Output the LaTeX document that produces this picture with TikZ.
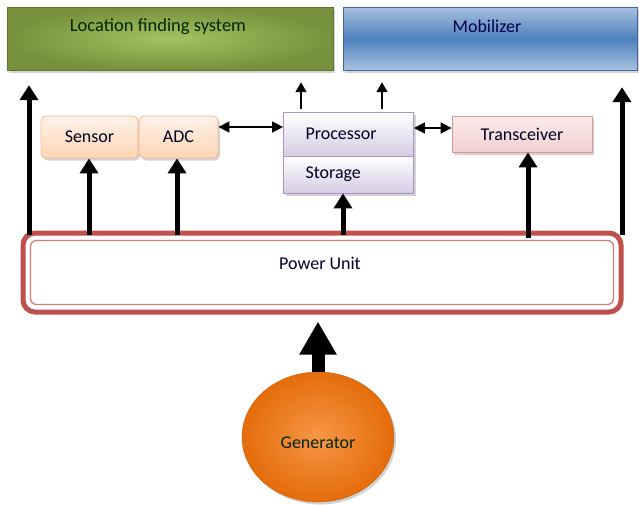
\documentclass[tikz,border=0pt]{standalone}
\usepackage{fontspec}
\setmainfont{Carlito}
\usetikzlibrary{arrows.meta,shapes.geometric,shadows}
\definecolor{gdark}{HTML}{76923C}
\definecolor{glight}{HTML}{A4C262}
\definecolor{bdark}{HTML}{4F81BD}
\definecolor{blight}{HTML}{A7C0DE}
\definecolor{pborder}{HTML}{A894C8}
\definecolor{pfill}{HTML}{D5CCE3}
\definecolor{oborder}{HTML}{F7B98A}
\definecolor{ofill}{HTML}{FCD5B4}
\definecolor{rborder}{HTML}{D99694}
\definecolor{rfill}{HTML}{F2D0CF}
\definecolor{pured}{HTML}{C0504D}
\definecolor{gen}{HTML}{E46C0A}
\definecolor{genlight}{HTML}{F79646}
\tikzset{
  txt/.style={font=\fontsize{18}{21}\selectfont, text=black!85!blue},
  shad/.style={drop shadow={shadow xshift=2pt,shadow yshift=-2.5pt,opacity=0.35}},
  greenbox/.style={rectangle, draw=gdark!80!black, inner color=glight, outer color=gdark, shad},
  bluebox/.style={rectangle, draw=bdark!80!black, top color=blight, bottom color=blight, middle color=bdark, shad},
  orangebox/.style={rectangle, rounded corners=5pt, draw=oborder, line width=0.8pt, top color=white!70!ofill, bottom color=ofill, shad, txt},
  purplebox/.style={rectangle, draw=pborder, line width=0.8pt, top color=white, bottom color=pfill, shad, txt, align=left, text width=86pt, inner xsep=22pt},
  pinkbox/.style={rectangle, draw=rborder, line width=0.8pt, top color=white!60!rfill, bottom color=rfill, shad, txt},
  thickarrow/.style={line width=5pt, -{Triangle[width=18pt,length=15pt]}},
  thinarrow/.style={line width=1.8pt, -{Triangle[width=11pt,length=10pt]}},
  dblarrow/.style={line width=1.6pt, {Triangle[width=11pt,length=11pt]}-{Triangle[width=11pt,length=11pt]}},
}
\begin{document}
\begin{tikzpicture}[x=1pt,y=-1pt]
\useasboundingbox (0,0) rectangle (639,504);
% top boxes
\node[greenbox, minimum width=326pt, minimum height=63pt] (loc) at (170,38.5) {};
\node[txt, font=\fontsize{18.5}{21}\selectfont, text=black!85!green] (loct) at (158,27) {Location finding system};
\node[bluebox, minimum width=294pt, minimum height=63pt] (mob) at (490,38.5) {};
\node[txt, text=black!70!blue] (mobt) at (487,26) {Mobilizer};
% middle boxes
\node[orangebox, minimum width=97pt, minimum height=42pt] (sensor) at (89.5,137) {Sensor};
\node[orangebox, minimum width=79pt, minimum height=42pt] (adc) at (178.5,137) {ADC};
\node[purplebox, minimum height=44pt] (proc) at (348.5,134) {Processor};
\node[purplebox, minimum height=37pt] (stor) at (348.5,174.5) {Storage};
\node[pinkbox, minimum width=140pt, minimum height=36pt] (trans) at (522,134) {Transceiver};
% power unit
\node[rectangle, rounded corners=12pt, draw=pured, line width=5pt, minimum width=598pt, minimum height=79pt, fill=white] (pu) at (322,272.5) {};
\node[rectangle, rounded corners=6pt, draw=pured!75, line width=1.3pt, minimum width=583pt, minimum height=64pt] (pui) at (pu.center) {};
\node[txt] (put) at (320,263) {Power Unit};
% generator
\node[ellipse, minimum width=152pt, minimum height=130pt, inner color=genlight, outer color=gen, draw=gen!90!black, shad, txt, text=black!85!green, text height=26pt, text depth=4pt] (gen) at (318,437) {Generator};
% arrows from power unit
\draw[thickarrow] (pu.north -| 29,0) ++(0,4) -- ([yshift=-15pt]loc.south -| 29,0);
\draw[thickarrow] (pu.north -| 622,0) ++(0,4) -- ([yshift=-17pt]mob.south -| 622,0);
\draw[thickarrow] (pu.north -| 89,0) ++(0,4) -- (sensor.south -| 89,0);
\draw[thickarrow] (pu.north -| 177,0) ++(0,4) -- (adc.south -| 177,0);
\draw[thickarrow] (pu.north -| 343,0) ++(0,4) -- (stor.south -| 343,0);
\draw[thickarrow] (pu.north -| 528,0) ++(0,7) -- (trans.south -| 528,0);
% processor outputs
\draw[thinarrow] ([yshift=3pt]proc.north -| 301,0) -- ([yshift=-12pt]loc.south -| 301,0);
\draw[thinarrow] ([yshift=3pt]proc.north -| 382,0) -- ([yshift=-12pt]mob.south -| 382,0);
% bidirectional
\draw[dblarrow] ([yshift=10pt]adc.east) -- ([yshift=7pt]proc.west);
\draw[dblarrow] ([yshift=6pt]proc.east) -- ([yshift=6pt]trans.west);
% generator arrow
\draw[line width=13pt, -{Triangle[width=35pt,length=33pt]}, shorten >=7pt] (gen.north) -- (gen.north |- pu.south);
\end{tikzpicture}
\end{document}
